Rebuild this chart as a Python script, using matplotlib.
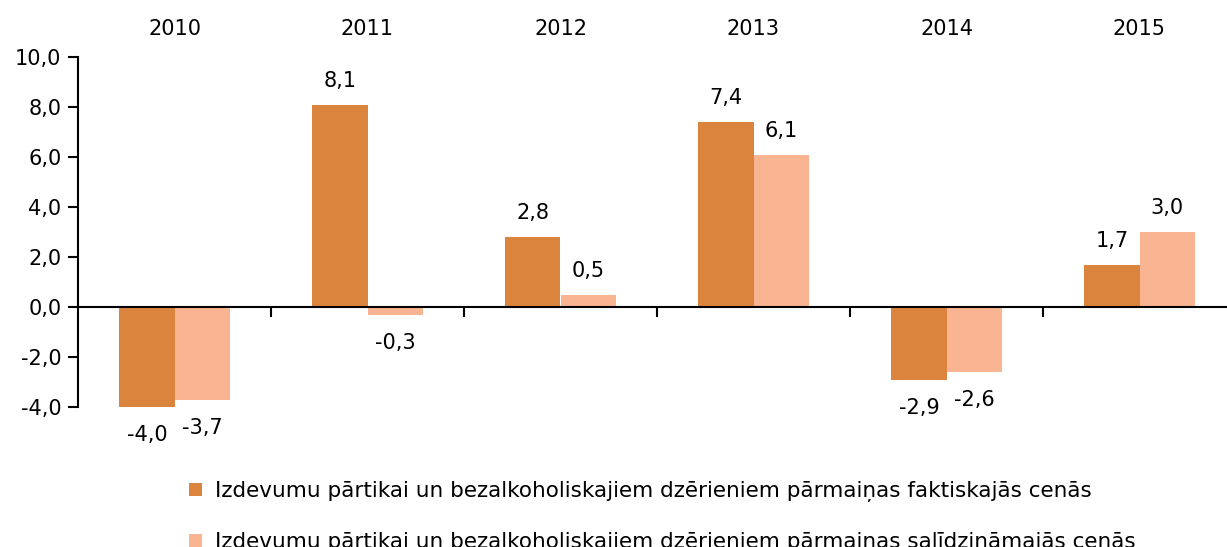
import numpy as np
import matplotlib
matplotlib.use('Agg')
import matplotlib.pyplot as plt
from matplotlib.ticker import FuncFormatter

years = ['2010', '2011', '2012', '2013', '2014', '2015']
actual = [-4.0, 8.1, 2.8, 7.4, -2.9, 1.7]
comparable = [-3.7, -0.3, 0.5, 6.1, -2.6, 3.0]
labels = ['Izdevumu pārtikai un bezalkoholiskajiem dzērieniem pārmaiņas faktiskajās cenās',
          'Izdevumu pārtikai un bezalkoholiskajiem dzērieniem pārmaiņas salīdzināmajās cenās']
c_dark = '#DB843D'
c_light = '#F9B592'

plt.rcParams['font.family'] = ['DejaVu Sans']
fs = 15

fig = plt.figure(figsize=(12.27, 5.47), dpi=100)
ax = fig.add_axes([78/1227, 1-407/547, 1158/1227, 350/547])

x = np.arange(len(years))
w = 0.285
b1 = ax.bar(x - w/2, actual, w, color=c_dark, label=labels[0])
b2 = ax.bar(x + w/2, comparable, w, color=c_light, label=labels[1])

def fmt(v):
    return ('%.1f' % v).replace('.', ',')

for bars, vals in ((b1, actual), (b2, comparable)):
    for r, v in zip(bars, vals):
        off = 10 if v >= 0 else -13
        ax.annotate(fmt(v), (r.get_x() + r.get_width()/2, v), xytext=(0, off),
                    textcoords='offset points', ha='center',
                    va='bottom' if v >= 0 else 'top', fontsize=fs)

ax.set_xlim(-0.5, len(years) - 0.5)
ax.set_ylim(-4, 10)
ax.set_yticks(np.arange(-4, 10.1, 2))
ax.yaxis.set_major_formatter(FuncFormatter(lambda v, p: fmt(v)))
ax.tick_params(axis='y', labelsize=fs, length=7, width=1.5, direction='out', pad=5)

ax.spines['top'].set_visible(False)
ax.spines['right'].set_visible(False)
ax.spines['left'].set_linewidth(1.5)
ax.spines['bottom'].set_position(('data', 0))
ax.spines['bottom'].set_linewidth(1.5)
ax.set_xticks(x[:-1] + 0.5)
ax.set_xticklabels([])
ax.tick_params(axis='x', length=7, width=1.5, direction='out')

top = ax.secondary_xaxis('top')
top.set_xticks(x)
top.set_xticklabels(years, fontsize=fs)
top.tick_params(length=0, pad=13)
top.spines['top'].set_visible(False)

fig.legend(handles=[b1, b2], loc='upper left', bbox_to_anchor=(189/1227, 1-481/547),
           frameon=False, fontsize=15.5, handlelength=0.6, handleheight=0.6,
           handletextpad=0.6, labelspacing=1.4, borderaxespad=0, borderpad=0)

fig.savefig('out.png', dpi=100)
